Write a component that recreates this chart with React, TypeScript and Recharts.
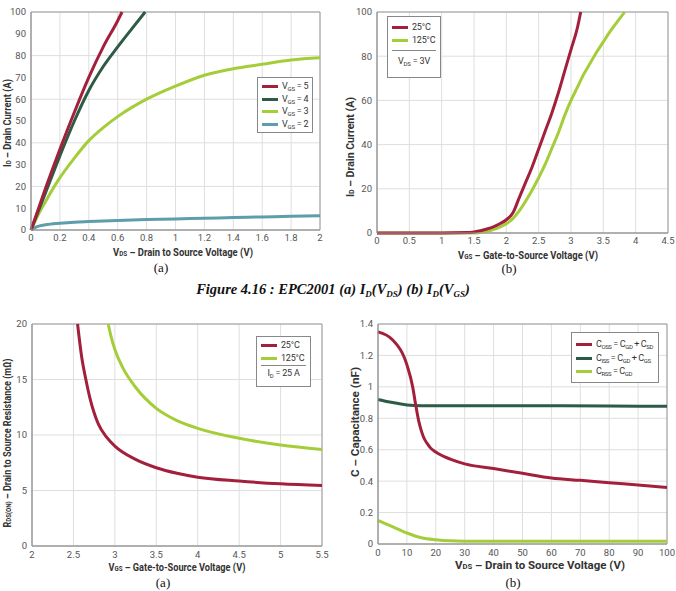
import React from "react";
import { LineChart, Line, XAxis, YAxis, CartesianGrid, ReferenceArea, Label } from "recharts";

const FONT = "Roboto, 'Liberation Sans', sans-serif";
const SERIF = "'Liberation Serif', 'DejaVu Serif', serif";
const RED = "#a3203c";
const DARK = "#2d5b45";
const LIME = "#a5cd3a";
const TEAL = "#5c9ea9";
const GRID = "#dedede";
const FRAME = "#9a9a9a";

// ID(VDS) for several gate voltages
const vgs5X = [0, 0.1, 0.2, 0.3, 0.4, 0.5, 0.6, 0.63];
const vgs5Y = [0, 19, 37, 54, 70, 84, 96, 100];
const vgs4X = [0, 0.1, 0.2, 0.3, 0.4, 0.5, 0.6, 0.7, 0.79];
const vgs4Y = [0, 17, 34, 50, 64, 75, 84, 92.5, 100];
const vgs3X = [0, 0.05, 0.1, 0.2, 0.3, 0.4, 0.5, 0.6, 0.8, 1.0, 1.2, 1.4, 1.6, 1.8, 2.0];
const vgs3Y = [0, 7, 13, 24, 33, 41, 47, 52, 60, 66, 71, 74, 76, 78, 79];
const vgs2X = [0, 0.03, 0.06, 0.1, 0.2, 0.3, 0.4, 0.6, 0.8, 1.0, 1.2, 1.4, 1.6, 1.8, 2.0];
const vgs2Y = [0, 1.2, 1.9, 2.4, 3.1, 3.6, 3.9, 4.4, 4.8, 5.1, 5.4, 5.7, 6.0, 6.3, 6.5];

// ID(VGS) transfer curves
const t25X = [0, 1, 1.4, 1.5, 1.6, 1.7, 1.8, 1.9, 2.0, 2.1, 2.2, 2.3, 2.4, 2.5, 2.6, 2.7, 2.8, 2.9, 3.0, 3.1, 3.15];
const t25Y = [0, 0, 0.2, 0.5, 1, 1.8, 2.8, 4.2, 6, 9, 16, 23, 30, 38, 46, 54, 63, 73, 83, 93, 100];
const t125X = [0, 1.5, 1.6, 1.7, 1.8, 1.9, 2.0, 2.1, 2.2, 2.3, 2.4, 2.5, 2.6, 2.7, 2.8, 2.9, 3.0, 3.1, 3.2, 3.3, 3.4, 3.5, 3.6, 3.7, 3.83];
const t125Y = [0, 0, 0.3, 0.8, 1.6, 2.7, 4.2, 6.5, 10, 14.5, 19.5, 25, 31, 38, 45, 53, 60, 66, 72, 77, 82, 86.5, 91, 95, 100];

// RDS(on) vs VGS
const r25X = [2.55, 2.6, 2.65, 2.7, 2.8, 2.9, 3.0, 3.25, 3.5, 3.75, 4, 4.5, 5, 5.5];
const r25Y = [20, 17, 15, 13.3, 11, 9.8, 9.0, 7.8, 7.05, 6.55, 6.2, 5.85, 5.6, 5.45];
const r125X = [2.92, 2.95, 3.0, 3.1, 3.25, 3.5, 3.75, 4, 4.5, 5, 5.5];
const r125Y = [20, 19, 17.7, 16, 14.3, 12.4, 11.3, 10.6, 9.7, 9.1, 8.7];

// capacitances vs VDS
const cossX = [0, 5, 10, 12, 13, 14, 15, 16, 17, 18, 20, 25, 30, 40, 50, 60, 70, 80, 90, 100];
const cossY = [1.35, 1.3, 1.14, 1.0, 0.89, 0.79, 0.72, 0.67, 0.64, 0.615, 0.585, 0.54, 0.51, 0.48, 0.45, 0.42, 0.405, 0.39, 0.375, 0.36];
const cissX = [0, 5, 10, 15, 20, 40, 60, 80, 100];
const cissY = [0.92, 0.9, 0.885, 0.88, 0.88, 0.88, 0.88, 0.878, 0.877];
const crssX = [0, 5, 10, 15, 20, 25, 30, 50, 100];
const crssY = [0.15, 0.11, 0.07, 0.04, 0.027, 0.02, 0.018, 0.018, 0.018];

// tick labels
const ticksA_X = [0, 0.2, 0.4, 0.6, 0.8, 1, 1.2, 1.4, 1.6, 1.8, 2];
const ticksA_Y = [0, 10, 20, 30, 40, 50, 60, 70, 80, 90, 100];
const ticksB_X = [0, 0.5, 1, 1.5, 2, 2.5, 3, 3.5, 4, 4.5];
const ticksB_Y = [0, 20, 40, 60, 80, 100];
const ticksC_X = [2, 2.5, 3, 3.5, 4, 4.5, 5, 5.5];
const ticksC_Y = [0, 5, 10, 15, 20];
const ticksD_X = [0, 10, 20, 30, 40, 50, 60, 70, 80, 90, 100];
const ticksD_Y = [0, 0.2, 0.4, 0.6, 0.8, 1, 1.2, 1.4];

const toPoints = (xs: number[], ys: number[]) => xs.map((x, i) => ({ x, y: ys[i] }));

const tickStyle = { fontSize: 9.5, fill: "#555", fontFamily: FONT };
const titleStyle = { fontSize: 10.5, fill: "#333", fontFamily: FONT, fontWeight: 700 };

const Sub = ({ t }: { t: string }) => (
  <tspan fontSize={7} dy={2}>{t}</tspan>
);

// bold axis title squeezed to a given length, centred on (x, y)
function AxisTitle({ x, y, len, rotate, children }: { x: number; y: number; len: number; rotate?: boolean; children: React.ReactNode }) {
  return (
    <text
      x={x}
      y={y}
      dominantBaseline="central"
      transform={rotate ? `rotate(-90 ${x} ${y})` : undefined}
      textAnchor="middle"
      textLength={len}
      lengthAdjust="spacingAndGlyphs"
      {...titleStyle}
    >
      {children}
    </text>
  );
}

const swatch = (color: string) => (
  <span style={{ display: "inline-block", width: 16, height: 3, background: color, marginRight: 4, verticalAlign: "middle" }} />
);

const legendBox: React.CSSProperties = {
  position: "absolute",
  border: "1px solid #888",
  background: "#fff",
  fontFamily: FONT,
  fontSize: 9,
  color: "#333",
  padding: "3px 4px",
  lineHeight: "12.5px",
  boxSizing: "border-box",
  whiteSpace: "nowrap",
  letterSpacing: -0.2,
};

const sub = (t: string) => <sub style={{ fontSize: 6, verticalAlign: "-2px", lineHeight: 0 }}>{t}</sub>;

function Frame({ x2, y2, x1 = 0 }: { x1?: number; x2: number; y2: number }) {
  return <ReferenceArea x1={x1} x2={x2} y1={0} y2={y2} fill="none" stroke={FRAME} strokeWidth={1} />;
}

function ChartA() {
  return (
    <div style={{ position: "absolute", left: 0, top: 0 }}>
      <LineChart width={330} height={262} margin={{ top: 12, right: 10, left: 0, bottom: 0 }}>
        <CartesianGrid stroke={GRID} />
        <XAxis type="number" dataKey="x" domain={[0, 2]} ticks={ticksA_X} tick={tickStyle} tickLine={false} tickSize={2} axisLine={{ stroke: FRAME }} height={32}>
          <Label content={() => (
            <AxisTitle x={183} y={252} len={140}>V<Sub t="DS" /><tspan dy={-2}> – Drain to Source Voltage (V)</tspan></AxisTitle>
          )} />
        </XAxis>
        <YAxis type="number" domain={[0, 100]} ticks={ticksA_Y} tick={tickStyle} tickLine={false} tickSize={3} axisLine={{ stroke: FRAME }} width={31}>
          <Label content={() => (
            <AxisTitle x={7} y={123} len={88} rotate>I<Sub t="D" /><tspan dy={-2}> – Drain Current (A)</tspan></AxisTitle>
          )} />
        </YAxis>
        <Frame x2={2} y2={100} />
        <Line data={toPoints(vgs2X, vgs2Y)} dataKey="y" type="monotone" stroke={TEAL} strokeWidth={3} dot={false} isAnimationActive={false} />
        <Line data={toPoints(vgs3X, vgs3Y)} dataKey="y" type="monotone" stroke={LIME} strokeWidth={3} dot={false} isAnimationActive={false} />
        <Line data={toPoints(vgs4X, vgs4Y)} dataKey="y" type="monotone" stroke={DARK} strokeWidth={3} dot={false} isAnimationActive={false} />
        <Line data={toPoints(vgs5X, vgs5Y)} dataKey="y" type="monotone" stroke={RED} strokeWidth={3} dot={false} isAnimationActive={false} />
      </LineChart>
      <div style={{ ...legendBox, left: 257, top: 77, width: 56, height: 56, paddingTop: 2 }}>
        <div>{swatch(RED)}V{sub("GS")} = 5</div>
        <div>{swatch(DARK)}V{sub("GS")} = 4</div>
        <div>{swatch(LIME)}V{sub("GS")} = 3</div>
        <div>{swatch(TEAL)}V{sub("GS")} = 2</div>
      </div>
    </div>
  );
}

function ChartB() {
  return (
    <div style={{ position: "absolute", left: 340, top: 0 }}>
      <LineChart width={336} height={262} margin={{ top: 12, right: 8, left: 0, bottom: 0 }}>
        <CartesianGrid stroke={GRID} />
        <XAxis type="number" dataKey="x" domain={[0, 4.5]} ticks={ticksB_X} tick={tickStyle} tickLine={false} tickSize={2} axisLine={{ stroke: FRAME }} height={29}>
          <Label content={() => (
            <AxisTitle x={188} y={255} len={140}>V<Sub t="GS" /><tspan dy={-2}> – Gate-to-Source Voltage (V)</tspan></AxisTitle>
          )} />
        </XAxis>
        <YAxis type="number" domain={[0, 100]} ticks={ticksB_Y} tick={tickStyle} tickLine={false} tickSize={3} axisLine={{ stroke: FRAME }} width={37}>
          <Label content={() => (
            <AxisTitle x={10} y={147} len={100} rotate>I<Sub t="D" /><tspan dy={-2}> – Drain Current (A)</tspan></AxisTitle>
          )} />
        </YAxis>
        <Frame x2={4.5} y2={100} />
        <Line data={toPoints(t125X, t125Y)} dataKey="y" type="monotone" stroke={LIME} strokeWidth={3} dot={false} isAnimationActive={false} />
        <Line data={toPoints(t25X, t25Y)} dataKey="y" type="monotone" stroke={RED} strokeWidth={3} dot={false} isAnimationActive={false} />
      </LineChart>
      <div style={{ ...legendBox, left: 47, top: 16, width: 54, height: 62, paddingTop: 4 }}>
        <div>{swatch(RED)}25°C</div>
        <div>{swatch(LIME)}125°C</div>
        <div style={{ borderTop: "1px solid #888", marginTop: 4, paddingTop: 4, textAlign: "center" }}>V{sub("DS")} = 3V</div>
      </div>
    </div>
  );
}

function ChartC() {
  return (
    <div style={{ position: "absolute", left: 0, top: 300 }}>
      <LineChart width={330} height={275} margin={{ top: 24, right: 8, left: 0, bottom: 0 }}>
        <CartesianGrid stroke={GRID} />
        <XAxis type="number" dataKey="x" domain={[2, 5.5]} ticks={ticksC_X} tick={tickStyle} tickLine={false} tickSize={3} axisLine={{ stroke: FRAME }} height={29}>
          <Label content={() => (
            <AxisTitle x={177} y={267} len={137}>V<Sub t="GS" /><tspan dy={-2}> – Gate-to-Source Voltage (V)</tspan></AxisTitle>
          )} />
        </XAxis>
        <YAxis type="number" domain={[0, 20]} ticks={ticksC_Y} tick={tickStyle} tickLine={false} tickSize={3} axisLine={{ stroke: FRAME }} width={32}>
          <Label content={() => (
            <AxisTitle x={7} y={143} len={169} rotate>R<Sub t="DS(ON)" /><tspan dy={-2}> – Drain  to Source Resistance (mΩ)</tspan></AxisTitle>
          )} />
        </YAxis>
        <Frame x1={2} x2={5.5} y2={20} />
        <Line data={toPoints(r125X, r125Y)} dataKey="y" type="monotone" stroke={LIME} strokeWidth={3} dot={false} isAnimationActive={false} />
        <Line data={toPoints(r25X, r25Y)} dataKey="y" type="monotone" stroke={RED} strokeWidth={3} dot={false} isAnimationActive={false} />
      </LineChart>
      <div style={{ ...legendBox, left: 256, top: 36, width: 55, height: 51, paddingTop: 2 }}>
        <div>{swatch(RED)}25°C</div>
        <div>{swatch(LIME)}125°C</div>
        <div style={{ borderTop: "1px solid #888", marginTop: 1, paddingTop: 1, textAlign: "center" }}>I{sub("D")} = 25 A</div>
      </div>
    </div>
  );
}

function ChartD() {
  return (
    <div style={{ position: "absolute", left: 340, top: 300 }}>
      <LineChart width={336} height={275} margin={{ top: 24, right: 9, left: 0, bottom: 0 }}>
        <CartesianGrid stroke={GRID} />
        <XAxis type="number" dataKey="x" domain={[0, 100]} ticks={ticksD_X} tick={tickStyle} tickLine={false} tickSize={3} axisLine={{ stroke: FRAME }} height={31}>
          <Label content={() => (
            <AxisTitle x={200} y={265} len={170}>V<Sub t="DS" /><tspan dy={-2}> – Drain to Source Voltage (V)</tspan></AxisTitle>
          )} />
        </XAxis>
        <YAxis type="number" domain={[0, 1.4]} ticks={ticksD_Y} tick={tickStyle} tickLine={false} tickSize={3} axisLine={{ stroke: FRAME }} width={38}>
          <Label content={() => (
            <AxisTitle x={15} y={122} len={110} rotate>C – Capacitance (nF)</AxisTitle>
          )} />
        </YAxis>
        <Frame x2={100} y2={1.4} />
        <Line data={toPoints(crssX, crssY)} dataKey="y" type="monotone" stroke={LIME} strokeWidth={3} dot={false} isAnimationActive={false} />
        <Line data={toPoints(cissX, cissY)} dataKey="y" type="monotone" stroke={DARK} strokeWidth={3} dot={false} isAnimationActive={false} />
        <Line data={toPoints(cossX, cossY)} dataKey="y" type="monotone" stroke={RED} strokeWidth={3} dot={false} isAnimationActive={false} />
      </LineChart>
      <div style={{ ...legendBox, left: 231, top: 32, width: 88, height: 51, padding: "5px 4px", lineHeight: "13.5px", letterSpacing: -0.4 }}>
        <div>{swatch(RED)}C{sub("OSS")} = C{sub("GD")} + C{sub("SD")}</div>
        <div>{swatch(DARK)}C{sub("ISS")} = C{sub("GD")} + C{sub("GS")}</div>
        <div>{swatch(LIME)}C{sub("RSS")} = C{sub("GD")}</div>
      </div>
    </div>
  );
}

const caption = (left: number, top: number, text: string) => (
  <div style={{ position: "absolute", left: left - 20, top, width: 40, textAlign: "center", fontFamily: SERIF, fontSize: 13, color: "#111" }}>
    {text}
  </div>
);

export default function App() {
  const s = { fontSize: 9, verticalAlign: "-3px" };
  return (
    <div style={{ position: "absolute", left: 0, top: 0, width: 676, height: 591, background: "#fff", overflow: "hidden" }}>
      <ChartA />
      <ChartB />
      <ChartC />
      <ChartD />
      {caption(161, 260, "(a)")}
      {caption(509, 261, "(b)")}
      {caption(163, 575, "(a)")}
      {caption(513, 575, "(b)")}
      <div style={{ position: "absolute", left: 0, top: 281, width: 666, textAlign: "center", fontFamily: SERIF, fontSize: 14.5, fontWeight: 700, fontStyle: "italic", color: "#111" }}>
        Figure 4.16 : EPC2001 (a) I<sub style={s}>D</sub>(V<sub style={s}>DS</sub>) (b) I<sub style={s}>D</sub>(V<sub style={s}>GS</sub>)
      </div>
    </div>
  );
}
